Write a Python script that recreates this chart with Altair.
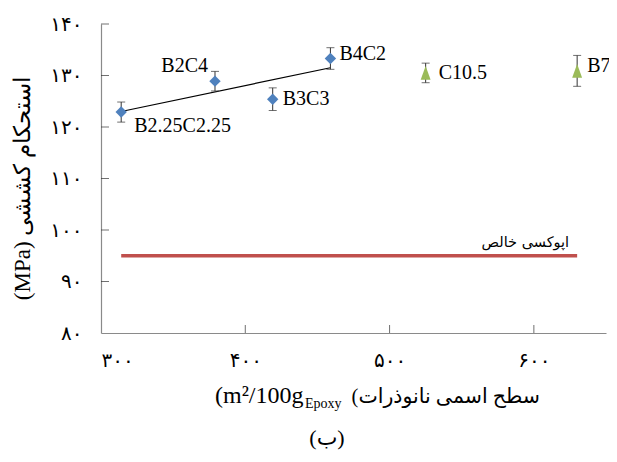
import altair as alt
import pandas as pd

# ---- data ----
hybrid_names = ["B2.25C2.25", "B2C4", "B3C3", "B4C2"]
hybrid_area = [314, 379, 419, 459]
hybrid_strength = [122.9, 128.9, 125.4, 133.3]
hybrid_err = [1.95, 1.9, 2.2, 2.1]

single_names = ["C10.5", "B7"]
single_area = [525, 630]
single_strength = [130.5, 130.9]
single_err = [1.9, 3.0]

epoxy_area = [314, 630]
epoxy_strength = [95, 95]
epoxy_label = ["اپوکسی خالص"]

x_ticks = [300, 400, 500, 600]
x_tick_labels = ["۳۰۰", "۴۰۰", "۵۰۰", "۶۰۰"]
y_ticks = [80, 90, 100, 110, 120, 130, 140]
y_tick_labels = ["۸۰", "۹۰", "۱۰۰", "۱۱۰", "۱۲۰", "۱۳۰", "۱۴۰"]

y_title = "(MPa) استحکام کششی"
x_title_a = "(m²/100g"
x_title_sub = "Epoxy"
x_title_b = "(سطح اسمی نانوذرات"
caption = "(ب)"

# ---- tables ----
hyb = pd.DataFrame({"name": hybrid_names, "x": hybrid_area, "y": hybrid_strength, "e": hybrid_err})
sgl = pd.DataFrame({"name": single_names, "x": single_area, "y": single_strength, "e": single_err})
pts = pd.concat([hyb, sgl], ignore_index=True)
pts["lo"] = pts["y"] - pts["e"]
pts["hi"] = pts["y"] + pts["e"]
epo = pd.DataFrame({"x": epoxy_area, "y": epoxy_strength})
epo_lab = pd.DataFrame({"x": [epoxy_area[-1]], "y": [epoxy_strength[-1]], "t": epoxy_label})
one = pd.DataFrame({"a": [0]})

W, H = 505, 309
LEFT, TOP = 93, 16
TOTAL_W, TOTAL_H = 601, 446
SERIF = "Liberation Serif"
FA = "DejaVu Sans"
AXIS_GREY = "#8a8a8a"
TICK_COL = "#333333"


def label_expr(vals, labs):
    expr = "''"
    for v, l in reversed(list(zip(vals, labs))):
        expr = f"datum.value == {v} ? '{l}' : ({expr})"
    return expr


xs = alt.Scale(domain=[300, 650], nice=False, zero=False)
ys = alt.Scale(domain=[80, 140], nice=False, zero=False)

x_axis = alt.Axis(values=x_ticks, labelExpr=label_expr(x_ticks, x_tick_labels), ticks=False, tickSize=0,
                  labelPadding=27, labelBaseline="middle", labelFont=FA, labelFontSize=20,
                  labelColor="black", domainColor=AXIS_GREY, domainWidth=1.2, grid=False, title=None)
y_axis = alt.Axis(values=y_ticks, labelExpr=label_expr(y_ticks, y_tick_labels), ticks=False, tickSize=0,
                  labelPadding=19, labelFont=FA, labelFontSize=20, labelColor="black",
                  domainColor=AXIS_GREY, domainWidth=1.2, grid=False,
                  title=y_title, titleFont=SERIF, titleFontSize=23, titleFontWeight="normal",
                  titleColor="black", titleX=-79, titleY=164, titleAngle=-90,
                  titleAlign="center", titleBaseline="middle")

# pure epoxy line (defines axes)
epoxy_line = alt.Chart(epo).mark_line(color="#C0504D", strokeWidth=3.5).encode(
    x=alt.X("x:Q", scale=xs, axis=x_axis),
    y=alt.Y("y:Q", scale=ys, axis=y_axis),
)
epoxy_text = alt.Chart(epo_lab).mark_text(align="right", baseline="middle", dx=-8, dy=-13,
                                          font=FA, fontSize=14.5, color="black").encode(
    x="x:Q", y="y:Q", text="t:N")

# inner tick marks
ytick_df = pd.DataFrame({"y": y_ticks[1:]})
xtick_df = pd.DataFrame({"x": x_ticks[1:]})
y_tick_marks = alt.Chart(ytick_df).mark_tick(orient="horizontal", size=8, thickness=1, color=TICK_COL).encode(
    y="y:Q", x=alt.value(4))
x_tick_marks = alt.Chart(xtick_df).mark_tick(orient="vertical", size=8, thickness=1, color=TICK_COL).encode(
    x="x:Q", y=alt.value(H - 4))

# regression trend through hybrid points
trend = alt.Chart(hyb).transform_regression("x", "y").mark_line(color="black", strokeWidth=1.2).encode(
    x="x:Q", y="y:Q")

# error bars
err_rule = alt.Chart(pts).mark_rule(color=TICK_COL, strokeWidth=1).encode(x="x:Q", y="lo:Q", y2="hi:Q")
err_lo = alt.Chart(pts).mark_tick(orient="horizontal", size=8, thickness=1, color=TICK_COL).encode(x="x:Q", y="lo:Q")
err_hi = alt.Chart(pts).mark_tick(orient="horizontal", size=8, thickness=1, color=TICK_COL).encode(x="x:Q", y="hi:Q")

# markers
blue_pts = alt.Chart(hyb).mark_point(shape="diamond", filled=True, size=130, color="#4F81BD", opacity=1).encode(
    x="x:Q", y="y:Q")
green_pts = alt.Chart(sgl).mark_point(shape="M0,-1L-0.72,1L0.72,1Z", filled=True, size=190, color="#9BBB59",
                                      opacity=1).encode(x="x:Q", y="y:Q")

# point labels
placement = {
    "B2.25C2.25": ("left", 13, 14),
    "B2C4": ("right", -7, -15),
    "B3C3": ("left", 10, 0),
    "B4C2": ("left", 9, -5),
    "C10.5": ("left", 13, 0),
    "B7": ("left", 10, -5),
}
label_layers = []
for nm, (al, dx, dy) in placement.items():
    label_layers.append(
        alt.Chart(pts).transform_filter(alt.datum.name == nm).mark_text(
            align=al, baseline="middle", dx=dx, dy=dy, font=SERIF, fontSize=20, color="black"
        ).encode(x="x:Q", y="y:Q", text="name:N")
    )

# x axis title pieces and caption (pixel positions relative to the plot area)
xt_a = alt.Chart(one).mark_text(align="left", baseline="alphabetic", font=SERIF, fontSize=24, color="black").encode(
    x=alt.value(114), y=alt.value(379), text=alt.value(x_title_a))
xt_sub = alt.Chart(one).mark_text(align="left", baseline="alphabetic", font=SERIF, fontSize=14, color="black").encode(
    x=alt.value(204), y=alt.value(384), text=alt.value(x_title_sub))
xt_b = alt.Chart(one).mark_text(align="right", baseline="alphabetic", font=SERIF + ", " + FA, fontSize=20.5,
                                color="black").encode(
    x=alt.value(439), y=alt.value(379), text=alt.value(x_title_b))
cap = alt.Chart(one).mark_text(align="center", baseline="middle", font=SERIF + ", " + FA, fontSize=22,
                               color="black").encode(
    x=alt.value(226), y=alt.value(414), text=alt.value(caption))

chart = alt.layer(
    epoxy_line, epoxy_text, y_tick_marks, x_tick_marks, trend, err_rule, err_lo, err_hi,
    blue_pts, green_pts, *label_layers, xt_a, xt_sub, xt_b, cap
).properties(
    width=W, height=H,
    padding={"left": LEFT, "top": TOP, "right": TOTAL_W - LEFT - W, "bottom": TOTAL_H - TOP - H},
    autosize=alt.AutoSizeParams(type="none"),
    background="white",
).configure_view(stroke=None)

chart.save("out.html", embed_options={"renderer": "svg", "actions": False})
